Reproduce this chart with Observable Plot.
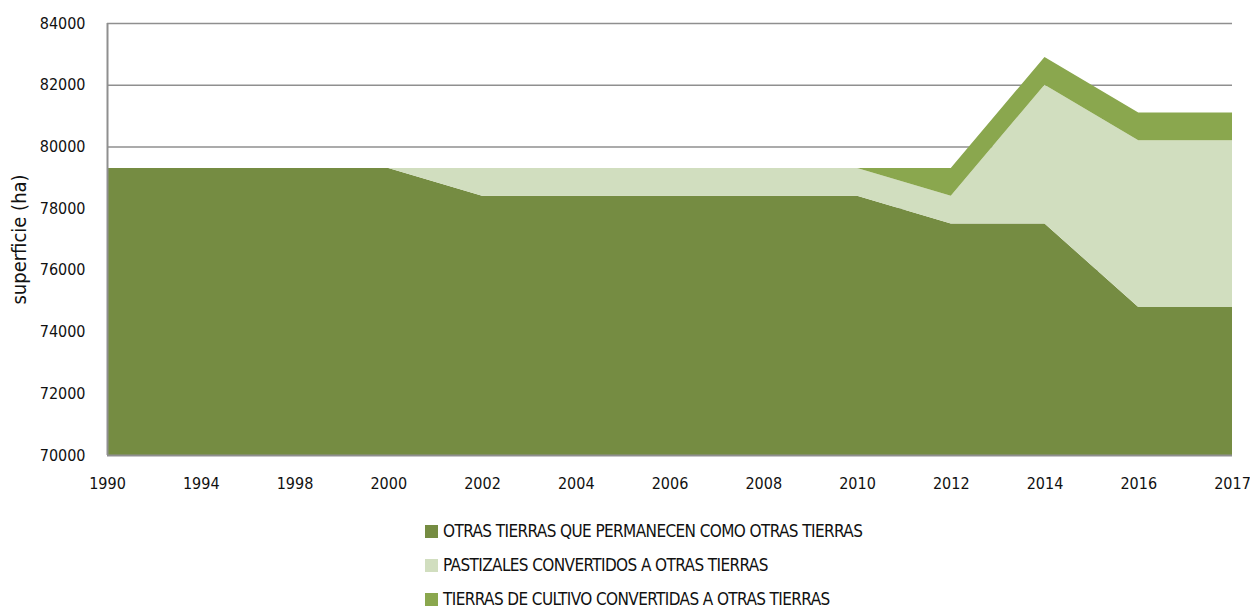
<!DOCTYPE html>
<html>
<head>
<meta charset="utf-8">
<script src="https://cdn.jsdelivr.net/npm/d3@7"></script>
<script src="https://cdn.jsdelivr.net/npm/@observablehq/plot@0.6"></script>
<style>
  body { margin: 0; background: #fff; font-family: "Liberation Sans Narrow", "DejaVu Sans Condensed", "Roboto Condensed", sans-serif; }
  #chart svg { display: block; }
  .legend { position: absolute; left: 425px; top: 514px; }
  .legend .row { display: flex; align-items: center; height: 34px; font-size: 17px; color: #111; letter-spacing: -0.6px; }
  .legend .sw { width: 13px; height: 13px; margin-right: 5px; }
</style>
</head>
<body>
<div id="chart"></div>
<div class="legend" id="legend"></div>
<script>
const years = ["1990","1994","1998","2000","2002","2004","2006","2008","2010","2012","2014","2016","2017"];
const seriesNames = [
  "OTRAS TIERRAS QUE PERMANECEN COMO OTRAS TIERRAS",
  "PASTIZALES CONVERTIDOS A OTRAS TIERRAS",
  "TIERRAS DE CULTIVO CONVERTIDAS A OTRAS TIERRAS"
];
const otrasTierras = [79300,79300,79300,79300,78400,78400,78400,78400,78400,77500,77500,74800,74800];
const pastizales   = [0,0,0,0,900,900,900,900,900,900,4500,5400,5400];
const cultivo      = [0,0,0,0,0,0,0,0,0,900,900,900,900];
const colors = ["#758C42", "#D1DEBF", "#8AA74E"];
const yTicks = [70000,72000,74000,76000,78000,80000,82000,84000];

const seriesValues = [otrasTierras, pastizales, cultivo];
const data = [];
seriesNames.forEach((s, k) => years.forEach((y, i) => data.push({i, year: y, series: s, value: seriesValues[k][i]})));

const fontFam = '"Liberation Sans Narrow", "DejaVu Sans Condensed", sans-serif';

const chart = Plot.plot({
  width: 1250,
  height: 500,
  marginLeft: 107,
  marginRight: 18,
  marginTop: 23,
  marginBottom: 45,
  style: {fontFamily: fontFam, fontSize: "16px", color: "#111", background: "#fff"},
  x: {type: "linear", domain: [0, years.length - 1], ticks: years.map((_, i) => i), tickFormat: i => years[i], tickSize: 0, tickPadding: 22, label: null},
  y: {domain: [70000, 84000], ticks: yTicks, tickFormat: d => String(d), tickSize: 0, tickPadding: 22, label: "superficie (ha)", labelAnchor: "center", labelArrow: "none", labelOffset: 96},
  color: {domain: seriesNames, range: colors},
  marks: [
    Plot.ruleY(yTicks.filter(d => d > 70000), {stroke: "#8f8f8f", strokeWidth: 1.6}),
    Plot.areaY(data, {x: "i", y: "value", z: "series", fill: "series", order: seriesNames, clip: true}),
    Plot.ruleY([70000], {stroke: "#8f8f8f", strokeWidth: 2}),
    Plot.ruleX([0], {stroke: "#8f8f8f", strokeWidth: 2})
  ]
});
document.getElementById("chart").appendChild(chart);
chart.querySelectorAll("g[aria-label='y-axis label'] text").forEach(t => t.setAttribute("font-size", "20px"));

const legend = document.getElementById("legend");
seriesNames.forEach((s, k) => {
  const row = document.createElement("div");
  row.className = "row";
  const sw = document.createElement("span");
  sw.className = "sw";
  sw.style.background = colors[k];
  const tx = document.createElement("span");
  tx.textContent = s;
  row.appendChild(sw); row.appendChild(tx);
  legend.appendChild(row);
});
</script>
</body>
</html>
